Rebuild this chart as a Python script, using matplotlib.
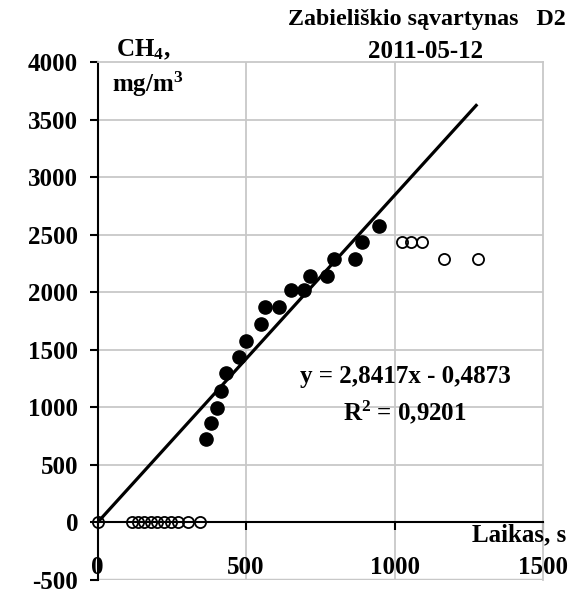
import matplotlib
matplotlib.use("Agg")
import matplotlib.pyplot as plt

plt.rcParams['font.family'] = ['Liberation Serif', 'DejaVu Serif']
plt.rcParams['font.weight'] = 'bold'
plt.rcParams['mathtext.default'] = 'regular'

# measured points (fit region, filled)
x_fit = [364, 382, 403, 415, 433, 477, 499, 549, 563, 612, 650, 696, 715, 772, 797, 868, 892, 949]
y_fit = [722, 866, 991, 1144, 1295, 1440, 1573, 1721, 1869, 1869, 2019, 2019, 2143, 2143, 2288, 2288, 2439, 2573]

# points left out of the fit (open circles)
x_out = [0, 115, 137, 158, 180, 202, 224, 247, 271, 305, 345, 1024, 1055, 1092, 1168, 1282]
y_out = [0, 0, 0, 0, 0, 0, 0, 0, 0, 0, 0, 2439, 2439, 2439, 2288, 2288]

slope, intercept = 2.8417, -0.4873
x_line = [0, 1275]
y_line = [slope * v + intercept for v in x_line]

xticks = [0, 500, 1000, 1500]
yticks = [-500, 0, 500, 1000, 1500, 2000, 2500, 3000, 3500, 4000]

W, H = 574, 594
fig = plt.figure(figsize=(W / 100, H / 100), dpi=100)
ax = fig.add_axes([97.5 / W, 1 - 580 / H, (543 - 97.5) / W, (580 - 62) / H])

ax.set_xlim(0, 1500)
ax.set_ylim(-500, 4000)

grid_c = '#c8c8c8'
for v in [500, 1000]:
    ax.axvline(v, color=grid_c, lw=1.3, zorder=0)
for v in yticks[2:-1]:
    ax.axhline(v, color=grid_c, lw=1.3, zorder=0)
ax.axhline(-500, color=grid_c, lw=2.5, zorder=0)

for s in ['top', 'right']:
    ax.spines[s].set_color(grid_c)
    ax.spines[s].set_linewidth(1.3)
ax.spines['left'].set_linewidth(1.5)
ax.spines['bottom'].set_position(('data', 0))
ax.spines['bottom'].set_linewidth(1.5)

ax.set_xticks(xticks)
ax.set_yticks(yticks)
ax.tick_params(axis='y', direction='out', length=6, width=1.5, labelsize=18, pad=8)
ax.tick_params(axis='x', direction='out', length=6, width=1.5, labelsize=18, pad=18)
ax.set_xticklabels([str(v) for v in xticks])
ax.set_yticklabels([str(v) for v in yticks])

ax.plot(x_line, y_line, color='black', lw=2.3, zorder=3)
ax.plot(x_fit, y_fit, 'o', color='black', ms=9.5, zorder=4)
ax.plot(x_out, y_out, 'o', mfc='none', mec='black', mew=1.3, ms=8, zorder=4, clip_on=False)

def px(x, y):
    return x / W, 1 - y / H

fs = 18
fig.text(*px(427, 20), 'Zabieliškio sąvartynas   D2', fontsize=17.3, ha='center', va='center')
fig.text(*px(426, 52), '2011-05-12', fontsize=fs, ha='center', va='center')
fig.text(*px(143, 50), 'CH$_4$,', fontsize=fs, ha='center', va='center')
fig.text(*px(148, 84), 'mg/m$^3$', fontsize=fs, ha='center', va='center')
fig.text(*px(405, 377), 'y = 2,8417x - 0,4873', fontsize=fs, ha='center', va='center')
fig.text(*px(405, 412), 'R$^2$ = 0,9201', fontsize=fs, ha='center', va='center')
fig.text(*px(566, 535), 'Laikas, s', fontsize=fs, ha='right', va='center')

fig.savefig('out.png', dpi=100)
